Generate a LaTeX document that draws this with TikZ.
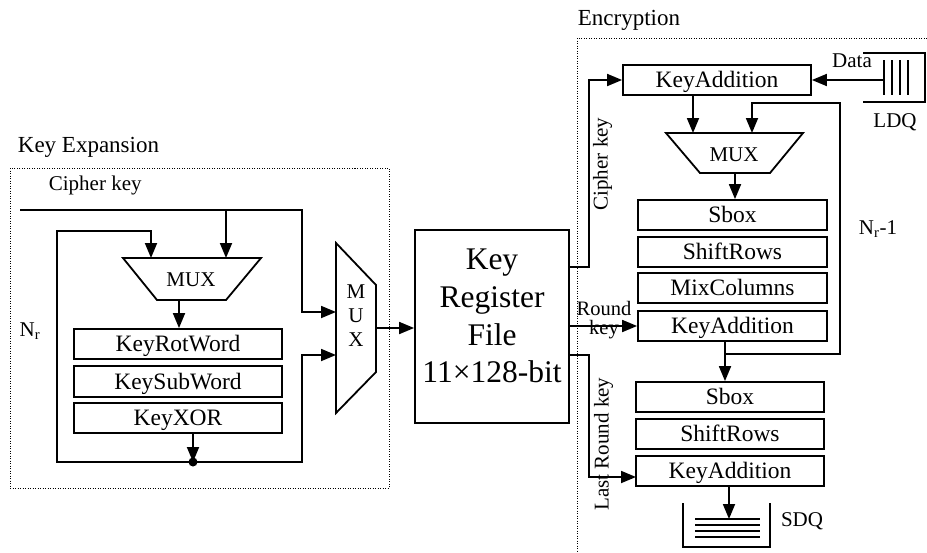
\documentclass[tikz,border=0pt]{standalone}
\usepackage{fontspec}
\setmainfont{Liberation Serif}
\usetikzlibrary{arrows.meta}
\begin{document}
\begin{tikzpicture}[x=1pt,y=-1pt, line width=1.8pt,
  blk/.style={draw, minimum height=30pt, inner sep=0pt, text height=16pt, text depth=1pt,
              font=\fontsize{23.5}{26}\selectfont},
  lbl/.style={inner sep=0pt, font=\fontsize{21}{23}\selectfont},
  ttl/.style={inner sep=0pt, font=\fontsize{23}{26}\selectfont},
  arr/.style={-{Triangle[length=15pt,width=12pt]}},
  dotbox/.style={draw, line width=1pt, dash pattern=on 1pt off 1.5pt}]
\useasboundingbox (0,0) rectangle (927,552);

% ---------------- Key Expansion ----------------
\draw[dotbox] (10,168) rectangle (389,488);
\node[ttl, anchor=base west] (kexp) at (17,152) {Key Expansion};
\node[lbl, anchor=base west] (ckl) at (48,190) {Cipher key};
\node[lbl] (nr) at (30,331) {N\textsubscript{r}};

\node[blk, minimum width=208pt] (krw) at (178,344) {KeyRotWord};
\node[blk, minimum width=208pt, minimum height=31pt] (ksw) at (178,381.5) {KeySubWord};
\node[blk, minimum width=208pt] (kxor) at (178,418) {KeyXOR};

% MUX 1
\draw (123,258) -- (261,258) -- (226,300) -- (157,300) -- cycle;
\node[lbl] (mux1) at (191,280) {MUX};
\coordinate (m1a) at (151,258);
\coordinate (m1b) at (226,258);
\coordinate (m1o) at (179,300);

% MUX 2 (vertical)
\draw (336,243) -- (376,285) -- (376,372) -- (336,413) -- cycle;
\node[lbl, align=center, font=\fontsize{21}{24}\selectfont] (mux2) at (356,316) {M\\U\\X};
\coordinate (m2a) at (336,312);
\coordinate (m2b) at (336,355);
\coordinate (m2o) at (376,328);

% connectors
\coordinate (ck0) at (20,210);
\coordinate (ckc) at (302,210);
\draw[arr] (ck0) -- (ckc) |- (m2a);
\draw[arr] (m1b |- ck0) -- (m1b);
\coordinate (dot) at (193,462);
\coordinate (lp) at (57,231);
\coordinate (rc) at (302,355);
\draw[arr] (dot |- kxor.south) -- (dot);
\draw[arr] (dot) -| (lp) -| (m1a);
\draw[arr] (dot) -| (rc) -- (m2b);
\fill (dot) circle (4.5);
\draw[arr] (m1o) -- (m1o |- krw.north);

% ---------------- Key Register File ----------------
\node[draw, minimum width=154pt, minimum height=193pt, inner sep=0pt] (krf) at (492,326.5) {};
\node[inner sep=0pt, align=center, font=\fontsize{31.5}{37.7}\selectfont] (krft) at (492,316)
  {Key\\Register\\File\\11×128-bit};
\draw[arr] (m2o) -- (m2o -| krf.west);

% ---------------- Encryption ----------------
\draw[dotbox] (927,38) -- (577,38) -- (577,552);
\node[ttl, anchor=base west] (enc) at (577,25) {Encryption};

\node[blk, minimum width=188pt] (ka1) at (717,80) {KeyAddition};
\draw (666,133) -- (803,133) -- (770,173) -- (700,173) -- cycle;
\node[lbl] (mux3) at (734,155) {MUX};
\coordinate (m3a) at (693,133);
\coordinate (m3b) at (752,133);
\coordinate (m3o) at (735,173);

\node[blk, minimum width=189pt] (sb1) at (732.5,215) {Sbox};
\node[blk, minimum width=189pt] (sr1) at (732.5,252) {ShiftRows};
\node[blk, minimum width=189pt] (mc) at (732.5,288) {MixColumns};
\node[blk, minimum width=189pt] (ka2) at (732.5,326) {KeyAddition};
\node[lbl] (nr1) at (878,229) {N\textsubscript{r}-1};

\node[blk, minimum width=188pt] (sb2) at (730,397) {Sbox};
\node[blk, minimum width=188pt] (sr2) at (730,434) {ShiftRows};
\node[blk, minimum width=188pt] (ka3) at (730,471) {KeyAddition};

\draw[arr] (ka1.south -| m3a) -- (m3a);
\draw[arr] (m3o) -- (m3o |- sb1.north);
\coordinate (lj) at (725,354);
\coordinate (lr) at (840,103);
\draw[arr] (ka2.south -| lj) -- (lj |- sb2.north);
\draw[arr] (lj) -| (lr) -| (m3b);

% LDQ
\draw[line width=1.5pt] (863,53) -- (925,53) -- (925,102) -- (863,102);
\foreach \xx in {884,892,900,908} \draw (\xx,60) -- (\xx,95);
\coordinate (ldqin) at (883,80);
\draw[arr] (ldqin) -- (ka1.east);
\node[lbl] (data) at (852,61) {Data};
\node[lbl] (ldq) at (895,122) {LDQ};

% SDQ
\draw[line width=1.5pt] (683,503) -- (683,547) -- (770,547) -- (770,503);
\foreach \yy in {519,525,531,537} \draw[line width=1.6pt] (695,\yy) -- (760,\yy);
\coordinate (sdqa) at (729,519);
\draw[arr] (ka3.south -| sdqa) -- (sdqa);
\node[lbl] (sdq) at (802,521) {SDQ};

% key paths from register
\coordinate (ro1) at (569,267);
\coordinate (cx1) at (589,267);
\draw[arr] (ro1) -- (cx1) |- (ka1.west);
\node[lbl, rotate=90] (ckv) at (602.5,164) {Cipher key};

\draw[arr] (ka2.west -| krf.east) -- (ka2.west);
\node[lbl, align=center, font=\fontsize{20.5}{19}\selectfont] (rk) at (604,320) {Round\\key};

\coordinate (ro3) at (569,355);
\coordinate (cx3) at (589,355);
\coordinate (ka3in) at (636,477);
\draw[arr] (ro3) -- (cx3) |- (ka3in);
\node[lbl, rotate=90] (lrk) at (603.5,444) {Last Round key};
\end{tikzpicture}
\end{document}
